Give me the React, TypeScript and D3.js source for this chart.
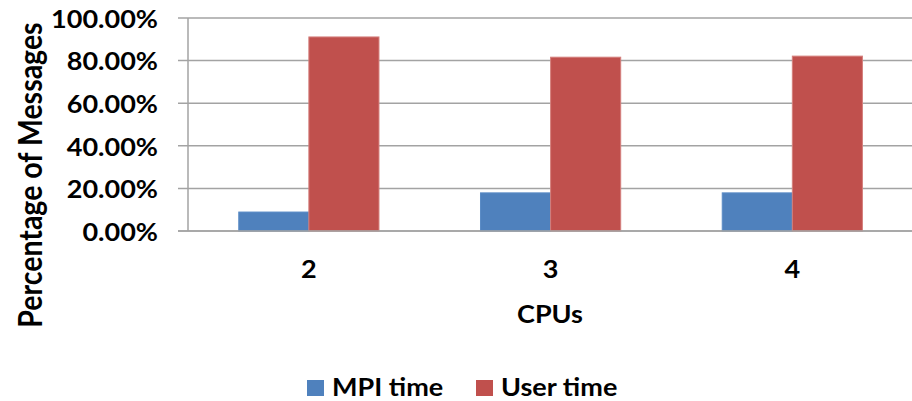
import React, { useEffect } from "react";
import * as d3 from "d3";

// Share of run time per CPU count
const categories = ["2", "3", "4"];
const seriesNames = ["MPI time", "User time"];
const mpiTime = [8.9, 17.9, 17.9];
const userTime = [91.1, 81.6, 82.1];
const yTicks = [0, 20, 40, 60, 80, 100];

const colors = ["#4f81bd", "#c0504d"];
const strokes = ["#5b8cc6", "#d47f7c"];

const W = 912;
const H = 401;
const FONT = "Lato, 'Open Sans', sans-serif";
const FS = 25.5;
const SX = 1.06; // slightly wide lettering

type TProps = {
  x: number;
  y: number;
  anchor?: "start" | "middle" | "end";
  baseline?: string;
  children: React.ReactNode;
};

function HText({ x, y, anchor = "start", baseline, children }: TProps) {
  return (
    <text
      transform={`translate(${x},${y}) scale(${SX},1)`}
      textAnchor={anchor}
      dominantBaseline={baseline}
      fontSize={FS}
      fill="#000"
    >
      {children}
    </text>
  );
}

export default function App() {
  useEffect(() => {
    document.body.style.margin = "0";
  }, []);

  const y = d3.scaleLinear().domain([0, 100]).range([231, 18]);
  const x0 = d3
    .scaleBand<string>()
    .domain(categories)
    .range([188, 913.2])
    .paddingInner(0.42)
    .paddingOuter(0.21);
  const x1 = d3
    .scaleBand<string>()
    .domain(seriesNames)
    .range([0, x0.bandwidth()]);

  const values = [mpiTime, userTime];
  const fmt = (v: number) => d3.format(".2f")(v) + "%";
  const axisX = x0.range()[0];

  return (
    <svg
      width={W}
      height={H}
      style={{ display: "block", background: "#fff" }}
      fontFamily={FONT}
      fontWeight="bold"
    >
      {/* gridlines + y ticks */}
      {yTicks.map((t) => (
        <g key={t}>
          <line
            x1={axisX - 10}
            x2={W}
            y1={y(t)}
            y2={y(t)}
            stroke="#a3a3a3"
            strokeWidth={1.5}
          />
          <HText x={158} y={y(t)} anchor="end" baseline="central">
            {fmt(t)}
          </HText>
        </g>
      ))}
      <line
        x1={axisX}
        x2={axisX}
        y1={y(100)}
        y2={y(0)}
        stroke="#a3a3a3"
        strokeWidth={1.5}
      />

      {/* bars */}
      {categories.map((c, i) => (
        <g key={c}>
          {seriesNames.map((s, j) => (
            <rect
              key={s}
              x={(x0(c) as number) + (x1(s) as number)}
              y={y(values[j][i])}
              width={x1.bandwidth()}
              height={y(0) - y(values[j][i])}
              fill={colors[j]}
              stroke={strokes[j]}
              strokeWidth={1}
            />
          ))}
          <HText
            x={(x0(c) as number) + x0.bandwidth() / 2}
            y={278}
            anchor="middle"
          >
            {c}
          </HText>
        </g>
      ))}

      {/* x axis baseline redrawn over bars */}
      <line
        x1={axisX - 10}
        x2={W}
        y1={y(0)}
        y2={y(0)}
        stroke="#a3a3a3"
        strokeWidth={1.5}
      />

      {/* axis titles */}
      <HText x={550} y={323} anchor="middle">
        CPUs
      </HText>
      <text
        transform="translate(42,175) scale(1.12,1) rotate(-90)"
        textAnchor="middle"
        fontSize={28.5}
      >
        Percentage of Messages
      </text>

      {/* legend */}
      {seriesNames.map((s, j) => {
        const lx = [307, 476][j];
        return (
          <g key={s}>
            <rect x={lx} y={380} width={17} height={16} fill={colors[j]} />
            <HText x={lx + 25} y={396}>
              {s}
            </HText>
          </g>
        );
      })}
    </svg>
  );
}
